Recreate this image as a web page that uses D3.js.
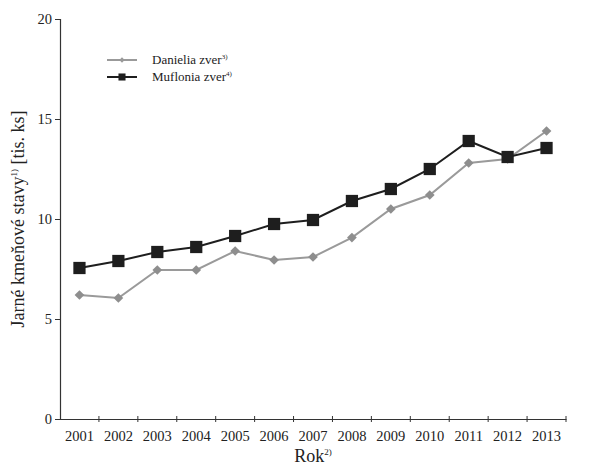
<!DOCTYPE html>
<html>
<head>
<meta charset="utf-8">
<script src="https://cdn.jsdelivr.net/npm/d3@7"></script>
<style>
  body { margin: 0; background: #fff; }
</style>
</head>
<body>
<div id="container"></div>
<script>
// Jarné kmeňové stavy danielej a muflonej zveri 2001 - 2013

const years = ["2001", "2002", "2003", "2004", "2005", "2006", "2007",
    "2008", "2009", "2010", "2011", "2012", "2013"]
const danielia = [6.2, 6.05, 7.45, 7.45, 8.4, 7.95, 8.1, 9.07, 10.5, 11.2, 12.8, 13.0, 14.4]
const muflonia = [7.55, 7.9, 8.35, 8.6, 9.15, 9.75, 9.95, 10.9, 11.5, 12.5, 13.9, 13.1, 13.55]
const yTicks = [0, 5, 10, 15, 20]

const font = "Liberation Serif"
const width = 596,
    height = 467
let padding = {
    top: 19,
    right: 30,
    bottom: 48,
    left: 60,
}

const svg = d3.select("#container")
    .append("svg")
    .attr("width", width)
    .attr("height", height)
    .attr("font-family", font)

const xScale = d3.scaleBand()
    .domain(years)
    .range([padding.left, width - padding.right])

const yScale = d3.scaleLinear()
    .domain([0, 20])
    .range([height - padding.bottom, padding.top])

// axes
const xAxis = d3.axisBottom(xScale).tickSize(0).tickPadding(12)
const gx = svg.append("g")
    .attr("transform", `translate(0,${yScale(0)})`)
    .call(xAxis)
    .attr("font-family", font)
gx.select(".domain").attr("stroke", "#333").attr("stroke-width", 1.2)
gx.selectAll(".tick text").attr("font-size", 14.5).attr("fill", "#222")
// ticks sit between the years
gx.selectAll(".bound")
    .data(years.slice(1).concat(["end"]))
    .enter()
    .append("line")
    .attr("x1", d => d === "end" ? xScale.range()[1] : xScale(d))
    .attr("x2", d => d === "end" ? xScale.range()[1] : xScale(d))
    .attr("y1", -3)
    .attr("y2", 3)
    .attr("stroke", "#333")

const yAxis = d3.axisLeft(yScale).tickValues(yTicks).tickSize(5).tickPadding(3)
const gy = svg.append("g")
    .attr("transform", `translate(${padding.left},0)`)
    .call(yAxis)
    .attr("font-family", font)
gy.select(".domain").attr("stroke", "#333").attr("stroke-width", 1.2)
gy.selectAll(".tick line").attr("stroke", "#333")
gy.selectAll(".tick text").attr("font-size", 14.5).attr("fill", "#222")

// axis titles
const xTitle = svg.append("text")
    .attr("x", (xScale.range()[0] + xScale.range()[1]) / 2)
    .attr("y", height - 5)
    .attr("text-anchor", "middle")
    .attr("font-size", 18)
    .attr("fill", "#222")
xTitle.append("tspan").text("Rok")
xTitle.append("tspan").text("2)").attr("font-size", 9).attr("dy", -7)

const yTitle = svg.append("text")
    .attr("transform", `translate(24,${(yScale(0) + yScale(20)) / 2}) rotate(-90)`)
    .attr("text-anchor", "middle")
    .attr("font-size", 18)
    .attr("fill", "#222")
yTitle.append("tspan").text("Jarné kmeňové stavy")
yTitle.append("tspan").text("1)").attr("font-size", 9).attr("dy", -7)
yTitle.append("tspan").text(" [tis. ks]").attr("dy", 7)

const line = d3.line()
    .x((d, i) => xScale(years[i]) + xScale.bandwidth() / 2)
    .y(d => yScale(d))

// Danielia zver
svg.append("path")
    .datum(danielia)
    .attr("d", line)
    .attr("fill", "none")
    .attr("stroke", "#9a9a9a")
    .attr("stroke-width", 2)
svg.selectAll(".dan")
    .data(danielia)
    .enter()
    .append("path")
    .attr("class", "dan")
    .attr("d", d3.symbol(d3.symbolDiamond2, 60))
    .attr("transform", (d, i) => `translate(${xScale(years[i]) + xScale.bandwidth() / 2},${yScale(d)})`)
    .attr("fill", "#8e8e8e")

// Muflonia zver
svg.append("path")
    .datum(muflonia)
    .attr("d", line)
    .attr("fill", "none")
    .attr("stroke", "#1e1e1e")
    .attr("stroke-width", 2)
svg.selectAll(".muf")
    .data(muflonia)
    .enter()
    .append("path")
    .attr("class", "muf")
    .attr("d", d3.symbol(d3.symbolSquare, 150))
    .attr("transform", (d, i) => `translate(${xScale(years[i]) + xScale.bandwidth() / 2},${yScale(d)})`)
    .attr("fill", "#1e1e1e")

// legend
const legend = svg.append("g").attr("transform", "translate(107,60)")
const items = [
    { name: "Danielia zver", sup: "3)", color: "#9a9a9a", symbol: d3.symbolDiamond2, size: 18 },
    { name: "Muflonia zver", sup: "4)", color: "#1e1e1e", symbol: d3.symbolSquare, size: 50 },
]
const li = legend.selectAll("g")
    .data(items)
    .enter()
    .append("g")
    .attr("transform", (d, i) => `translate(0,${i * 17})`)
li.append("line")
    .attr("x1", 0).attr("x2", 30)
    .attr("stroke", d => d.color)
    .attr("stroke-width", 2)
li.append("path")
    .attr("d", d => d3.symbol(d.symbol, d.size)())
    .attr("transform", "translate(15,0)")
    .attr("fill", d => d.color)
const lt = li.append("text")
    .attr("x", 45)
    .attr("y", 4)
    .attr("font-size", 13)
    .attr("fill", "#222")
lt.append("tspan").text(d => d.name)
lt.append("tspan").text(d => d.sup).attr("font-size", 7).attr("dy", -5)
</script>
</body>
</html>
